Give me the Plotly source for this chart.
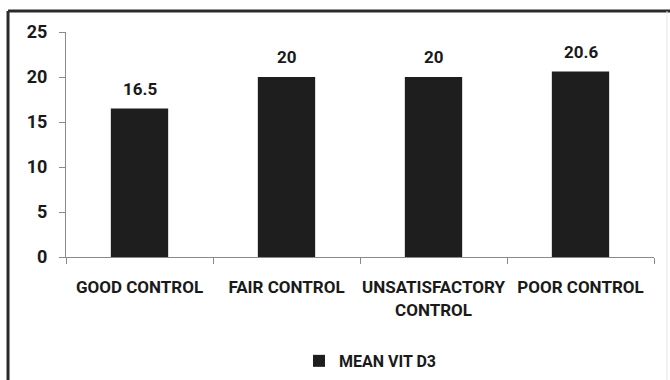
import plotly.graph_objects as go

categories = ["GOOD CONTROL", "FAIR CONTROL", "UNSATISFACTORY<br>CONTROL", "POOR CONTROL"]
values = [16.5, 20, 20, 20.6]
value_labels = ["16.5", "20", "20", "20.6"]
series_name = "MEAN VIT D3"
y_ticks = [0, 5, 10, 15, 20, 25]

FONT = "Roboto, Arial, sans-serif"
TXT = "#1a1a1a"

fig = go.Figure()
fig.add_trace(go.Bar(
    x=categories, y=values, name=series_name,
    marker=dict(color="#1e1e1e", line=dict(width=0)),
    showlegend=True,
))

for c, v, t in zip(categories, values, value_labels):
    fig.add_annotation(x=c, y=v, text="<b>%s</b>" % t, showarrow=False,
                       yanchor="bottom", yshift=8,
                       font=dict(family=FONT, size=17, color=TXT))

fig.update_layout(
    width=670, height=380,
    margin=dict(l=66, r=16, t=32, b=123, autoexpand=False),
    paper_bgcolor="white", plot_bgcolor="white",
    bargap=0.61,
    font=dict(family=FONT, size=17, color=TXT),
    showlegend=True,
    legend=dict(orientation="h", x=0.517, xanchor="center", y=-0.462, yanchor="middle",
                font=dict(family=FONT, size=16, color=TXT, weight="bold"),
                itemwidth=30, bgcolor="rgba(0,0,0,0)"),
)

fig.update_yaxes(range=[0, 25], tickvals=y_ticks, ticks="outside", ticklen=6,
                 tickcolor="#8a8a8a", showline=True, linecolor="#8a8a8a", linewidth=1,
                 showgrid=False, zeroline=False, automargin=False,
                 tickfont=dict(family=FONT, size=18, color=TXT, weight="bold"),
                 ticklabelstandoff=8)
fig.update_xaxes(ticks="outside", tickson="boundaries", ticklen=6, tickangle=0,
                 tickcolor="#8a8a8a", showline=True, linecolor="#8a8a8a", linewidth=1,
                 showgrid=False, automargin=False,
                 tickfont=dict(family=FONT, size=17, color=TXT, weight="bold"),
                 ticklabelstandoff=15)

# chart frame (left/top dark, right faint)
fig.add_shape(type="line", xref="paper", yref="paper", x0=-0.0986, x1=-0.0986, y0=1.093, y1=-0.6,
              line=dict(color="#2a2a2a", width=3))
fig.add_shape(type="line", xref="paper", yref="paper", x0=-0.0986, x1=1.03, y0=1.093, y1=1.093,
              line=dict(color="#2a2a2a", width=3))
fig.add_shape(type="line", xref="paper", yref="paper", x0=1.0221, x1=1.0221, y0=1.093, y1=-0.6,
              line=dict(color="#e6e6e6", width=1))

fig.write_html("out.html", config={"displayModeBar": False},
               post_script="document.body.style.margin='0';")
